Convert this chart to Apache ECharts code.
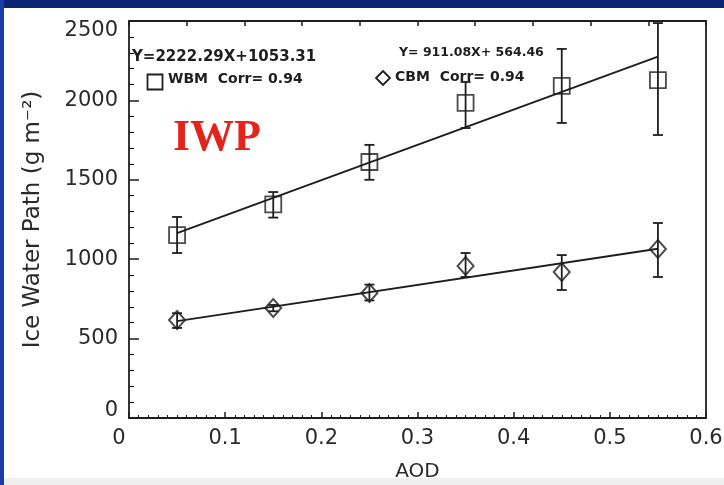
<!DOCTYPE html>
<html>
<head>
<meta charset="utf-8">
<title>IWP vs AOD</title>
<script src="https://cdn.jsdelivr.net/npm/echarts@6/dist/echarts.min.js"></script>
<style>
  html, body { margin: 0; padding: 0; background: #ffffff; }
  #iwp-chart { width: 724px; height: 485px; }
</style>
</head>
<body>
<div id="iwp-chart"></div>
<script>
'use strict';

// AOD 分档中心
var aod = [0.05, 0.15, 0.25, 0.35, 0.45, 0.55];

// WBM 平均值及误差棒上下端
var wbmMean = [1152, 1345, 1612, 1984, 2091, 2128];
var wbmLow = [1039, 1262, 1500, 1826, 1858, 1782];
var wbmHigh = [1266, 1423, 1720, 2116, 2324, 2487];

// CBM 平均值及误差棒上下端
var cbmMean = [617, 693, 787, 957, 920, 1064];
var cbmLow = [567, 672, 740, 888, 806, 888];
var cbmHigh = [660, 712, 840, 1039, 1026, 1228];

// 拟合直线 Y = a*X + b，画在 0.05 ~ 0.55 之间
var wbmFit = [2222.29, 1053.31];
var cbmFit = [911.08, 564.46];
var fitRange = [0.05, 0.55];

var xTicks = [0, 0.1, 0.2, 0.3, 0.4, 0.5, 0.6];
var yTicks = [0, 500, 1000, 1500, 2000, 2500];

var ink = '#1e1e1e';

function pairs(xs, ys) {
  var out = [];
  for (var i = 0; i < xs.length; i++) {
    out.push([xs[i], ys[i]]);
  }
  return out;
}

function bars(xs, lo, hi) {
  var out = [];
  for (var i = 0; i < xs.length; i++) {
    out.push([xs[i], lo[i], hi[i]]);
  }
  return out;
}

function fitLine(coef) {
  return [
    [fitRange[0], coef[0] * fitRange[0] + coef[1]],
    [fitRange[1], coef[0] * fitRange[1] + coef[1]]
  ];
}

// 误差棒：竖线 + 上下横帽
function renderErrorBar(params, api) {
  var top = api.coord([api.value(0), api.value(2)]);
  var bot = api.coord([api.value(0), api.value(1)]);
  var cap = 5;
  var style = { stroke: ink, lineWidth: 1.8 };
  return {
    type: 'group',
    children: [
      { type: 'line', shape: { x1: top[0], y1: top[1], x2: bot[0], y2: bot[1] }, style: style },
      { type: 'line', shape: { x1: top[0] - cap, y1: top[1], x2: top[0] + cap, y2: top[1] }, style: style },
      { type: 'line', shape: { x1: bot[0] - cap, y1: bot[1], x2: bot[0] + cap, y2: bot[1] }, style: style }
    ]
  };
}

var chart = echarts.init(document.getElementById('iwp-chart'));

var labelFont = {
  fontFamily: 'DejaVu Sans',
  fontSize: 21,
  color: '#2a2a2a'
};

var option = {
  backgroundColor: '#ffffff',
  animation: false,
  textStyle: { fontFamily: 'DejaVu Sans' },
  grid: {
    left: 129,
    right: 18,
    top: 21,
    bottom: 67,
    outerBoundsMode: 'none'
  },
  graphic: [
    // 外框：顶部深蓝条、左侧蓝条、底部灰条
    { type: 'rect', left: 0, top: 0, shape: { width: 724, height: 8 }, style: { fill: '#0c2573' }, silent: true },
    { type: 'rect', left: 0, top: 0, shape: { width: 4, height: 485 }, style: { fill: '#1a3ca6' }, silent: true },
    { type: 'rect', left: 4, top: 478, shape: { width: 720, height: 7 }, style: { fill: '#efefef' }, silent: true },
    // 回归方程及图例
    {
      type: 'text', left: 132, top: 50,
      style: { text: 'Y=2222.29X+1053.31', font: 'bold 15px "DejaVu Sans"', fill: ink }
    },
    {
      type: 'rect', left: 145, top: 72,
      shape: { width: 15, height: 15 },
      style: { fill: 'none', stroke: ink, lineWidth: 1.8 }
    },
    {
      type: 'text', left: 168, top: 72,
      style: { text: 'WBM  Corr= 0.94', font: 'bold 14px "DejaVu Sans"', fill: ink }
    },
    {
      type: 'text', left: 399, top: 46,
      style: { text: 'Y= 911.08X+ 564.46', font: 'bold 12.5px "DejaVu Sans"', fill: ink }
    },
    {
      type: 'polygon',
      shape: { points: [[383, 71], [390, 78], [383, 85], [376, 78]] },
      style: { fill: 'none', stroke: ink, lineWidth: 1.8 }
    },
    {
      type: 'text', left: 395, top: 70,
      style: { text: 'CBM  Corr= 0.94', font: 'bold 14px "DejaVu Sans"', fill: ink }
    },
    {
      type: 'text', left: 173, top: 117,
      style: { text: 'IWP', font: 'bold 44px "Liberation Serif"', fill: '#e3241b' }
    }
  ],
  xAxis: [
    {
      type: 'value',
      min: xTicks[0],
      max: xTicks[xTicks.length - 1],
      interval: 0.1,
      name: 'AOD',
      nameLocation: 'middle',
      nameGap: 44,
      nameTextStyle: { fontFamily: 'DejaVu Sans', fontSize: 20, color: '#2a2a2a' },
      axisLine: { onZero: false, lineStyle: { color: ink, width: 1.8 } },
      axisTick: { inside: true, length: 6, lineStyle: { color: ink, width: 1.5 } },
      minorTick: { show: true, splitNumber: 10, length: 3, lineStyle: { color: ink, width: 1 } },
      splitLine: { show: false },
      axisLabel: Object.assign({
        margin: 10,
        formatter: function(v) { return v === 0 ? '{first|0}' : v.toFixed(1); },
        rich: { first: Object.assign({ padding: [0, 20, 0, 0] }, labelFont) }
      }, labelFont)
    },
    {
      type: 'value',
      position: 'top',
      min: 0,
      max: 0.6,
      interval: 0.06,
      axisLine: { show: true, onZero: false, lineStyle: { color: ink, width: 1.8 } },
      axisTick: { show: true, inside: true, length: 5, lineStyle: { color: ink, width: 1.5 } },
      axisLabel: { show: false },
      splitLine: { show: false }
    }
  ],
  yAxis: [
    {
      type: 'value',
      min: yTicks[0],
      max: yTicks[yTicks.length - 1],
      interval: 500,
      name: 'Ice Water Path (g m\u207B\u00B2)',
      nameLocation: 'middle',
      nameGap: 84,
      nameTextStyle: { fontFamily: 'DejaVu Sans', fontSize: 23, color: '#2a2a2a' },
      axisLine: { show: true, onZero: false, lineStyle: { color: ink, width: 1.8 } },
      axisTick: { show: true, inside: true, length: 10, lineStyle: { color: ink, width: 1.5 } },
      minorTick: { show: true, splitNumber: 5, length: 5, lineStyle: { color: ink, width: 1.2 } },
      splitLine: { show: false },
      axisLabel: Object.assign({
        margin: 11,
        // 最上、最下两个标签向内错开
        formatter: function(v) {
          if (v === yTicks[yTicks.length - 1]) return '{top|' + v + '}';
          if (v === yTicks[0]) return '{bot|' + v + '}';
          return String(v);
        },
        rich: {
          top: Object.assign({ padding: [20, 0, 0, 0] }, labelFont),
          bot: Object.assign({ padding: [0, 0, 14, 0] }, labelFont)
        }
      }, labelFont)
    },
    {
      type: 'value',
      position: 'right',
      min: 0,
      max: 2500,
      axisLine: { show: true, onZero: false, lineStyle: { color: ink, width: 1.8 } },
      axisTick: { show: false },
      axisLabel: { show: false },
      splitLine: { show: false }
    }
  ],
  series: [
    {
      name: 'WBM fit',
      type: 'line',
      data: fitLine(wbmFit),
      symbol: 'none',
      lineStyle: { color: ink, width: 2 },
      z: 3
    },
    {
      name: 'CBM fit',
      type: 'line',
      data: fitLine(cbmFit),
      symbol: 'none',
      lineStyle: { color: ink, width: 2 },
      z: 3
    },
    {
      name: 'WBM',
      type: 'scatter',
      data: pairs(aod, wbmMean),
      symbol: 'rect',
      symbolSize: 16,
      itemStyle: { color: 'rgba(255,255,255,0)', borderColor: ink, borderWidth: 1.8 },
      z: 4
    },
    {
      name: 'CBM',
      type: 'scatter',
      data: pairs(aod, cbmMean),
      symbol: 'diamond',
      symbolSize: [16, 18],
      itemStyle: { color: 'rgba(255,255,255,0)', borderColor: ink, borderWidth: 2 },
      z: 4
    },
    {
      name: 'WBM err',
      type: 'custom',
      renderItem: renderErrorBar,
      data: bars(aod, wbmLow, wbmHigh),
      z: 5
    },
    {
      name: 'CBM err',
      type: 'custom',
      renderItem: renderErrorBar,
      data: bars(aod, cbmLow, cbmHigh),
      z: 5
    }
  ]
};

chart.setOption(option);
window.onresize = chart.resize;
</script>
</body>
</html>
